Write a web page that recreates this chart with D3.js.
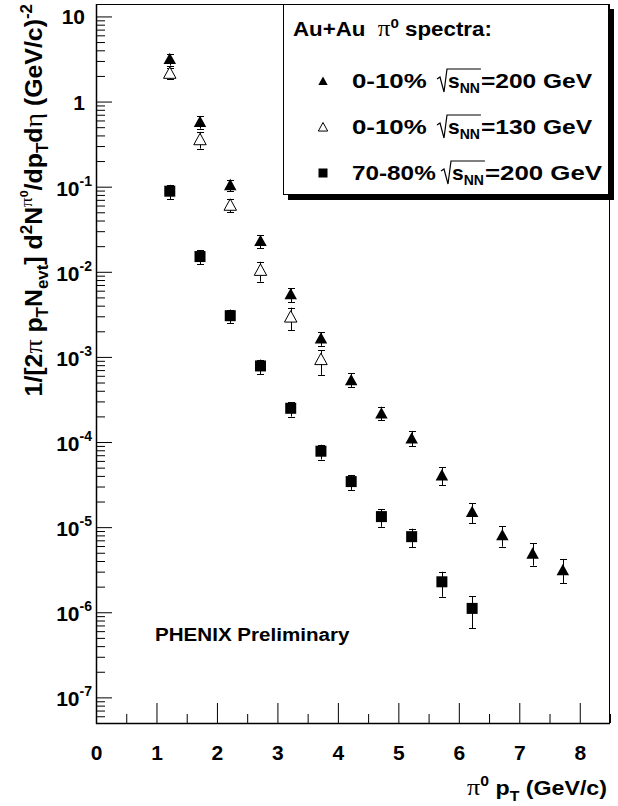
<!DOCTYPE html>
<html><head><meta charset="utf-8">
<script src="https://cdn.jsdelivr.net/npm/d3@7/dist/d3.min.js"></script>
<style>
body{margin:0;background:#fff}
svg{display:block}
text{font-family:"Liberation Sans",Arial,Helvetica,sans-serif;font-weight:bold;fill:#000;white-space:pre}
tspan.sym{font-family:"Liberation Serif","Times New Roman",serif;font-weight:normal}
</style>
</head><body>
<svg id="c" width="618" height="806"></svg>
<script>
// ---------------- data ----------------
const ptCentral200 = [1.22,1.72,2.22,2.72,3.22,3.72,4.22,4.72,5.22,5.72,6.22,6.72,7.22,7.72];
const yieldCentral200 = [3.19,0.58,0.105,0.0232,5.5e-3,1.66e-3,5.37e-4,2.18e-4,1.11e-4,4.1e-5,1.52e-5,8.1e-6,4.93e-6,3.14e-6];
const loCentral200 = [2.65,0.48,0.088,0.0188,4.4e-3,1.35e-3,4.4e-4,1.8e-4,8.9e-5,3.13e-5,1.11e-5,5.9e-6,3.53e-6,2.19e-6];
const hiCentral200 = [3.6,0.67,0.12,0.027,6.4e-3,1.95e-3,6.4e-4,2.6e-4,1.35e-4,5.05e-5,1.9e-5,1.03e-5,6.46e-6,4.23e-6];

const ptCentral130 = [1.22,1.72,2.22,2.72,3.22,3.72];
const yieldCentral130 = [2.17,0.36,0.0611,0.0105,2.97e-3,9.4e-4];
const loCentral130 = [1.85,0.28,0.050,7.65e-3,2.07e-3,6.15e-4];
const hiCentral130 = [2.5,0.44,0.072,1.31e-2,3.79e-3,1.2e-3];

const ptPeriph200 = [1.22,1.72,2.22,2.72,3.22,3.72,4.22,4.72,5.22,5.72,6.22];
const yieldPeriph200 = [0.0885,0.0151,3.05e-3,7.83e-4,2.49e-4,7.8e-5,3.43e-5,1.33e-5,7.73e-6,2.28e-6,1.11e-6];
const loPeriph200 = [0.0713,0.0123,2.48e-3,6.3e-4,1.99e-4,6.23e-5,2.74e-5,1.01e-5,5.79e-6,1.52e-6,6.46e-7];
const hiPeriph200 = [0.105,0.0178,3.6e-3,9.3e-4,2.95e-4,9.3e-5,4.1e-5,1.62e-5,9.6e-6,2.99e-6,1.55e-6];

const xTickValues = [0,1,2,3,4,5,6,7,8];
const xTickLabels = ["0","1","2","3","4","5","6","7","8"];
const yTickValues = [10,1,1e-1,1e-2,1e-3,1e-4,1e-5,1e-6,1e-7];
const yTickBase = ["10","1","10","10","10","10","10","10","10"];
const yTickExp = ["","","-1","-2","-3","-4","-5","-6","-7"];

const legendLabels = ["0-10%", "0-10%", "70-80%"];
const legendEnergies = ["=200 GeV", "=130 GeV", "=200 GeV"];

// ---------------- layout ----------------
const L = 96, R = 610, T = 4, B = 723;
const svg = d3.select("#c");
const x = d3.scaleLinear().domain([0, 8.5]).range([L, R]);
const y = d3.scaleLog().domain([5e-8, 14]).range([B, T]);

// rich text helper: segs = [[text, level, sym]]  level 0 normal, 1 sup, -1 sub, 2 sup-sup
function rich(textSel, segs, fs) {
  const shift = {0:0, 1:-0.42*fs, "-1":0.28*fs, 2:-0.62*fs};
  const size = {0:fs, 1:0.68*fs, "-1":0.68*fs, 2:0.5*fs};
  let cur = 0;
  segs.forEach(([t, lv, sym]) => {
    const s = shift[lv];
    const ts = textSel.append("tspan").attr("dy", s - cur).attr("font-size", size[lv]).text(t);
    if (sym) ts.attr("class", "sym").attr("font-size", size[lv] * 1.12);
    cur = s;
  });
}
// horizontally stretch a text so its ink spans `width`, pinned at x-coordinate `ax`
function fitX(sel, ax, width) {
  const w = sel.node().getBBox().width;
  const s = width / w;
  sel.attr("transform", `translate(${ax},0) scale(${s},1) translate(${-ax},0)`);
  return s;
}

svg.append("rect").attr("x",0).attr("y",0).attr("width",618).attr("height",806).attr("fill","#fff");

// ---------------- axes ----------------
const allY = y.ticks();
const minorY = allY.filter(v => !yTickValues.some(m => Math.abs(m - v) / m < 1e-6));
const gyMinor = svg.append("g").attr("transform", `translate(${L},0)`)
  .call(d3.axisLeft(y).tickValues(minorY).tickSizeInner(-9).tickSizeOuter(0).tickFormat(""));
const gyMajor = svg.append("g").attr("transform", `translate(${L},0)`)
  .call(d3.axisLeft(y).tickValues(yTickValues).tickSizeInner(-16).tickSizeOuter(0).tickFormat(""));
const xMinor = x.ticks(17).filter(v => v % 1 !== 0);
const gxMinor = svg.append("g").attr("transform", `translate(0,${B})`)
  .call(d3.axisBottom(x).tickValues(xMinor).tickSizeInner(-9).tickSizeOuter(0).tickFormat(""));
const gxMajor = svg.append("g").attr("transform", `translate(0,${B})`)
  .call(d3.axisBottom(x).tickValues(xTickValues).tickSizeInner(-20).tickSizeOuter(0).tickPadding(22)
        .tickFormat((d, i) => xTickLabels[i]));
[gyMinor, gyMajor, gxMinor, gxMajor].forEach(g => {
  g.select(".domain").remove();
  g.selectAll(".tick line").attr("stroke", "#000").attr("stroke-width", 1);
});
gxMajor.attr("font-family", null).attr("font-size", null);
gxMajor.selectAll(".tick text").attr("font-size", 21).attr("fill", "#000");

// y tick labels
const fsTick = 21;
yTickValues.forEach((v, i) => {
  const yy = y(v);
  if (yTickExp[i] === "") {
    svg.append("text").attr("x", 85).attr("y", yy + 8).attr("text-anchor", "end")
      .attr("font-size", fsTick).text(yTickBase[i]);
  } else {
    const t = svg.append("text").attr("x", 92).attr("y", yy + 9).attr("text-anchor", "end")
      .attr("font-size", fsTick);
    t.append("tspan").text(yTickBase[i]);
    t.append("tspan").attr("dy", -10).attr("font-size", 14).text(yTickExp[i]);
  }
});

// frame
svg.append("rect").attr("x", L + 0.5).attr("y", T + 0.5).attr("width", R - L - 1).attr("height", B - T)
  .attr("fill", "none").attr("stroke", "#000").attr("stroke-width", 1);
svg.append("line").attr("x1", L + 0.5).attr("x2", L + 0.5).attr("y1", T).attr("y2", B + 1)
  .attr("stroke", "#000").attr("stroke-width", 1.5);
svg.append("line").attr("x1", L).attr("x2", R).attr("y1", B + 0.5).attr("y2", B + 0.5)
  .attr("stroke", "#000").attr("stroke-width", 1.5);

// ---------------- titles ----------------
const xt = svg.append("text").attr("x", 607).attr("y", 795).attr("text-anchor", "end").attr("font-size", 21);
rich(xt, [["\u03c0",0,1],["0",1],[" p",0],["T",-1],[" (GeV/c)",0]], 21);
fitX(xt, 607, 140);

const ytg = svg.append("g").attr("transform", "translate(42,4) rotate(-90)");
const yt = ytg.append("text").attr("x", 0).attr("y", 0).attr("text-anchor", "end").attr("font-size", 23);
rich(yt, [["1/[2",0],["\u03c0",0,1],[" p",0],["T",-1],["N",0],["evt",-1],["] d",0],["2",1],["N",0],["\u03c0",1,1],["0",2],
          ["/dp",0],["T",-1],["d",0],["\u03b7",0,1],[" (GeV/c)",0],["-2",1]], 23);
fitX(yt, 0, 393);

const ph = svg.append("text").attr("x", 155).attr("y", 641).attr("font-size", 19).text("PHENIX Preliminary");
fitX(ph, 155, 195);

// ---------------- markers ----------------
const triUp = s => `M0,${-s*0.5}L${s*0.52},${s*0.45}L${-s*0.52},${s*0.45}Z`;
function errorBars(pts, vals, lo, hi) {
  const g = svg.append("g").attr("stroke", "#000").attr("stroke-width", 1);
  pts.forEach((p, i) => {
    const cx = Math.round(x(p)) + 0.5;
    g.append("line").attr("x1", cx).attr("x2", cx).attr("y1", y(lo[i])).attr("y2", y(hi[i]));
    [lo[i], hi[i]].forEach(e => {
      const yy = Math.round(y(e)) + 0.5;
      g.append("line").attr("x1", cx - 3.5).attr("x2", cx + 3.5).attr("y1", yy).attr("y2", yy);
    });
  });
}
errorBars(ptPeriph200, yieldPeriph200, loPeriph200, hiPeriph200);
errorBars(ptCentral130, yieldCentral130, loCentral130, hiCentral130);
errorBars(ptCentral200, yieldCentral200, loCentral200, hiCentral200);

svg.append("g").selectAll("rect").data(ptPeriph200).join("rect")
  .attr("x", d => x(d) - 5.5).attr("y", (d, i) => y(yieldPeriph200[i]) - 5.5)
  .attr("width", 11).attr("height", 11).attr("fill", "#000");
svg.append("g").selectAll("path").data(ptCentral130).join("path")
  .attr("transform", (d, i) => `translate(${x(d)},${y(yieldCentral130[i])})`)
  .attr("d", triUp(12)).attr("fill", "#fff").attr("stroke", "#000").attr("stroke-width", 1);
svg.append("g").selectAll("path").data(ptCentral200).join("path")
  .attr("transform", (d, i) => `translate(${x(d)},${y(yieldCentral200[i])})`)
  .attr("d", triUp(12)).attr("fill", "#000");

// ---------------- legend ----------------
svg.append("rect").attr("x", 288).attr("y", 9).attr("width", 326).attr("height", 191).attr("fill", "#000");
svg.append("rect").attr("x", 283.5).attr("y", 4.5).attr("width", 325).attr("height", 190)
  .attr("fill", "#fff").attr("stroke", "#000").attr("stroke-width", 1);

const lt = svg.append("text").attr("x", 293).attr("y", 36).attr("font-size", 20);
rich(lt, [["Au+Au  ",0],["\u03c0",0,1],["0",1],[" spectra:",0]], 20);
fitX(lt, 293, 199);

const rowY = [88, 134, 180];
const labelEnd = [427, 427, 436];
const sStart = [448, 448, 452];
const rowEnd = [593, 593, 603];
const legMarkers = [
  g => g.append("path").attr("d", triUp(9)).attr("fill", "#000"),
  g => g.append("path").attr("d", triUp(9)).attr("fill", "#fff").attr("stroke", "#000"),
  g => g.append("rect").attr("x", -4.5).attr("y", -4.5).attr("width", 9).attr("height", 9).attr("fill", "#000")
];
legendLabels.forEach((lab, i) => {
  const by = rowY[i];
  legMarkers[i](svg.append("g").attr("transform", `translate(323,${by - 7})`));
  const lb = svg.append("text").attr("x", 352).attr("y", by).attr("font-size", 20).text(lab);
  fitX(lb, 352, labelEnd[i] - 352);
  const x0 = sStart[i];
  const sT = svg.append("text").attr("x", x0).attr("y", by).attr("font-size", 21).text("s");
  const sw = sT.node().getComputedTextLength();
  const nT = svg.append("text").attr("x", x0 + sw).attr("y", by + 5).attr("font-size", 14).text("NN");
  const nw = nT.node().getComputedTextLength();
  const xe = x0 + sw + nw + 1;
  const eT = svg.append("text").attr("x", xe).attr("y", by).attr("font-size", 20).text(legendEnergies[i]);
  fitX(eT, xe, rowEnd[i] - xe);
  svg.append("path")
    .attr("d", `M${x0-11},${by-9}L${x0-8},${by-11}L${x0-4},${by+4}L${x0-1},${by-19}L${xe},${by-19}`)
    .attr("fill", "none").attr("stroke", "#000").attr("stroke-width", 1.2);
});
</script>
</body></html>
